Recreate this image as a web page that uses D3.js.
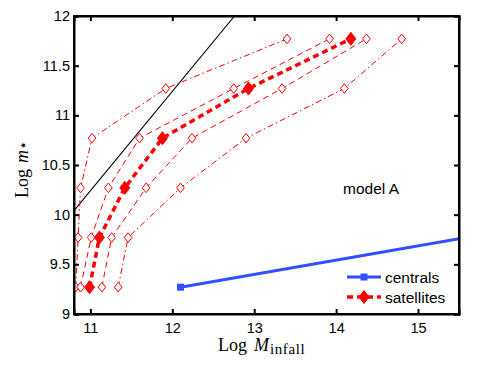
<!DOCTYPE html>
<html>
<head>
<meta charset="utf-8">
<script src="https://cdn.jsdelivr.net/npm/d3@7"></script>
<style>
  body { margin: 0; background: #fff; }
  svg text { font-family: "Liberation Sans", Arial, Helvetica, sans-serif; }
</style>
</head>
<body>
<svg id="chart" width="491" height="369"></svg>
<script>
// stellar mass levels (y) shared by all satellite curves
var levels = [9.27, 9.77, 10.27, 10.77, 11.27, 11.77];

// infall mass (x) for each satellite curve
var satOuterLo = [10.82, 10.85, 10.88, 11.02, 11.92, 13.40];
var satInnerLo = [10.88, 11.01, 11.22, 11.60, 12.75, 13.92];
var satMedian  = [10.99, 11.11, 11.42, 11.88, 12.93, 14.18];
var satInnerHi = [11.14, 11.26, 11.68, 12.24, 13.34, 14.37];
var satOuterHi = [11.34, 11.46, 12.10, 12.90, 14.10, 14.80];

// centrals relation
var centralsX = [12.10, 16.0];
var centralsY = [9.27, 9.83];

// black reference line
var refX = [10.8, 12.76];
var refY = [10.04, 12.0];

var xTicks = [11, 12, 13, 14, 15];
var yTicks = [9, 9.5, 10, 10.5, 11, 11.5, 12];

var margin = {left: 74, top: 16, right: 32, bottom: 55};
var width = 491 - margin.left - margin.right;
var height = 369 - margin.top - margin.bottom;

var red = "#ff0000", blue = "#3050ff";

var svg = d3.select("#chart");
var g = svg.append("g").attr("transform", "translate(" + margin.left + "," + margin.top + ")");

var x = d3.scaleLinear().domain([10.8, 15.5]).range([0, width]);
var y = d3.scaleLinear().domain([9, 12]).range([height, 0]);

g.append("clipPath").attr("id", "clip")
  .append("rect").attr("width", width).attr("height", height);

var plot = g.append("g").attr("clip-path", "url(#clip)");

var line = d3.line().x(function(d) { return x(d[0]); }).y(function(d) { return y(d[1]); });

function zipXY(xs, ys) {
  return xs.map(function(v, i) { return [v, ys[i]]; });
}

// reference line
plot.append("path")
  .attr("d", line(zipXY(refX, refY)))
  .attr("fill", "none").attr("stroke", "#000").attr("stroke-width", 1.1);

// centrals
plot.append("path")
  .attr("d", line(zipXY(centralsX, centralsY)))
  .attr("fill", "none").attr("stroke", blue).attr("stroke-width", 3);
plot.append("rect")
  .attr("x", x(centralsX[0]) - 3.5).attr("y", y(centralsY[0]) - 3.5)
  .attr("width", 7).attr("height", 7)
  .attr("fill", blue);

function diamond(w, h) {
  return "M0," + (-h) + "L" + w + ",0L0," + h + "L" + (-w) + ",0Z";
}

var satellites = [
  {xs: satOuterLo, dash: "6,3,1.5,3", w: 1, filled: false},
  {xs: satOuterHi, dash: "6,3,1.5,3", w: 1, filled: false},
  {xs: satInnerLo, dash: "6,4", w: 1, filled: false},
  {xs: satInnerHi, dash: "6,4", w: 1, filled: false},
  {xs: satMedian, dash: "6,4", w: 3.5, filled: true}
];

satellites.forEach(function(s) {
  var pts = zipXY(s.xs, levels);
  plot.append("path")
    .attr("d", line(pts))
    .attr("fill", "none").attr("stroke", red)
    .attr("stroke-width", s.w).attr("stroke-dasharray", s.dash);
  plot.selectAll(null).data(pts).enter().append("path")
    .attr("transform", function(d) { return "translate(" + x(d[0]) + "," + y(d[1]) + ")"; })
    .attr("d", s.filled ? diamond(5, 6.5) : diamond(3.8, 4.8))
    .attr("fill", s.filled ? red : "#fff")
    .attr("stroke", red).attr("stroke-width", 1);
});

// axes (ticks point inward, box on all four sides)
var xAxis = g.append("g").attr("transform", "translate(0," + height + ")")
  .call(d3.axisBottom(x).tickValues(xTicks).tickSize(-5).tickPadding(9).tickFormat(d3.format("d")));
var yAxis = g.append("g")
  .call(d3.axisLeft(y).tickValues(yTicks).tickSize(-5).tickPadding(4).tickFormat(function(d) { return d; }));
var xTop = g.append("g")
  .call(d3.axisTop(x).tickValues(xTicks).tickSize(-5).tickFormat(""));
var yRight = g.append("g").attr("transform", "translate(" + width + ",0)")
  .call(d3.axisRight(y).tickValues(yTicks).tickSize(-5).tickFormat(""));

[xAxis, yAxis, xTop, yRight].forEach(function(a) {
  a.select(".domain").attr("stroke", "#000").attr("stroke-width", 2);
  a.selectAll(".tick line").attr("stroke", "#000").attr("stroke-width", 2);
  a.selectAll(".tick text").attr("fill", "#000")
    .style("font-family", "'Liberation Sans', Arial, sans-serif").style("font-size", "14.5px");
});
// square the box corners
g.append("rect").attr("width", width).attr("height", height)
  .attr("fill", "none").attr("stroke", "#000").attr("stroke-width", 2);

// axis labels
var xl = g.append("text")
  .attr("x", 218 - margin.left).attr("y", 351 - margin.top)
  .style("font-family", "'Liberation Serif', 'Times New Roman', serif").style("font-size", "18px");
xl.append("tspan").text("Log");
xl.append("tspan").attr("dx", 7).attr("font-style", "italic").text("M");
xl.append("tspan").attr("dy", 3).attr("dx", 1).style("font-size", "15px")
  .style("letter-spacing", "0.6px").text("infall");

var yl = g.append("text")
  .attr("transform", "translate(" + (28 - margin.left) + "," + (198 - margin.top) + ") rotate(-90)")
  .style("font-family", "'Liberation Serif', 'Times New Roman', serif").style("font-size", "18px");
yl.append("tspan").text("Log");
yl.append("tspan").attr("dx", 6).attr("font-style", "italic").text("m");
yl.append("tspan").attr("dy", 0).attr("dx", 0).style("font-family", "'DejaVu Sans', sans-serif")
  .style("font-size", "15px").text("\u22c6");

// annotation
g.append("text").attr("x", 343 - margin.left).attr("y", 194 - margin.top)
  .style("font-size", "15.5px").text("model A");

// legend
var legend = g.append("g").attr("transform", "translate(" + (347 - margin.left) + "," + (277 - margin.top) + ")");
legend.append("line").attr("x1", 0).attr("x2", 34).attr("y1", 0).attr("y2", 0)
  .attr("stroke", blue).attr("stroke-width", 3);
legend.append("rect").attr("x", 13.5).attr("y", -3.5).attr("width", 7).attr("height", 7).attr("fill", blue);
legend.append("text").attr("x", 38).attr("y", 5.5).style("font-size", "15.5px").text("centrals");
legend.append("line").attr("x1", 0).attr("x2", 34).attr("y1", 20).attr("y2", 20)
  .attr("stroke", red).attr("stroke-width", 3.5).attr("stroke-dasharray", "6,4");
legend.append("path").attr("transform", "translate(17,20)").attr("d", diamond(5, 6.5))
  .attr("fill", red).attr("stroke", red);
legend.append("text").attr("x", 38).attr("y", 25.5).style("font-size", "15.5px").text("satellites");
</script>
</body>
</html>
